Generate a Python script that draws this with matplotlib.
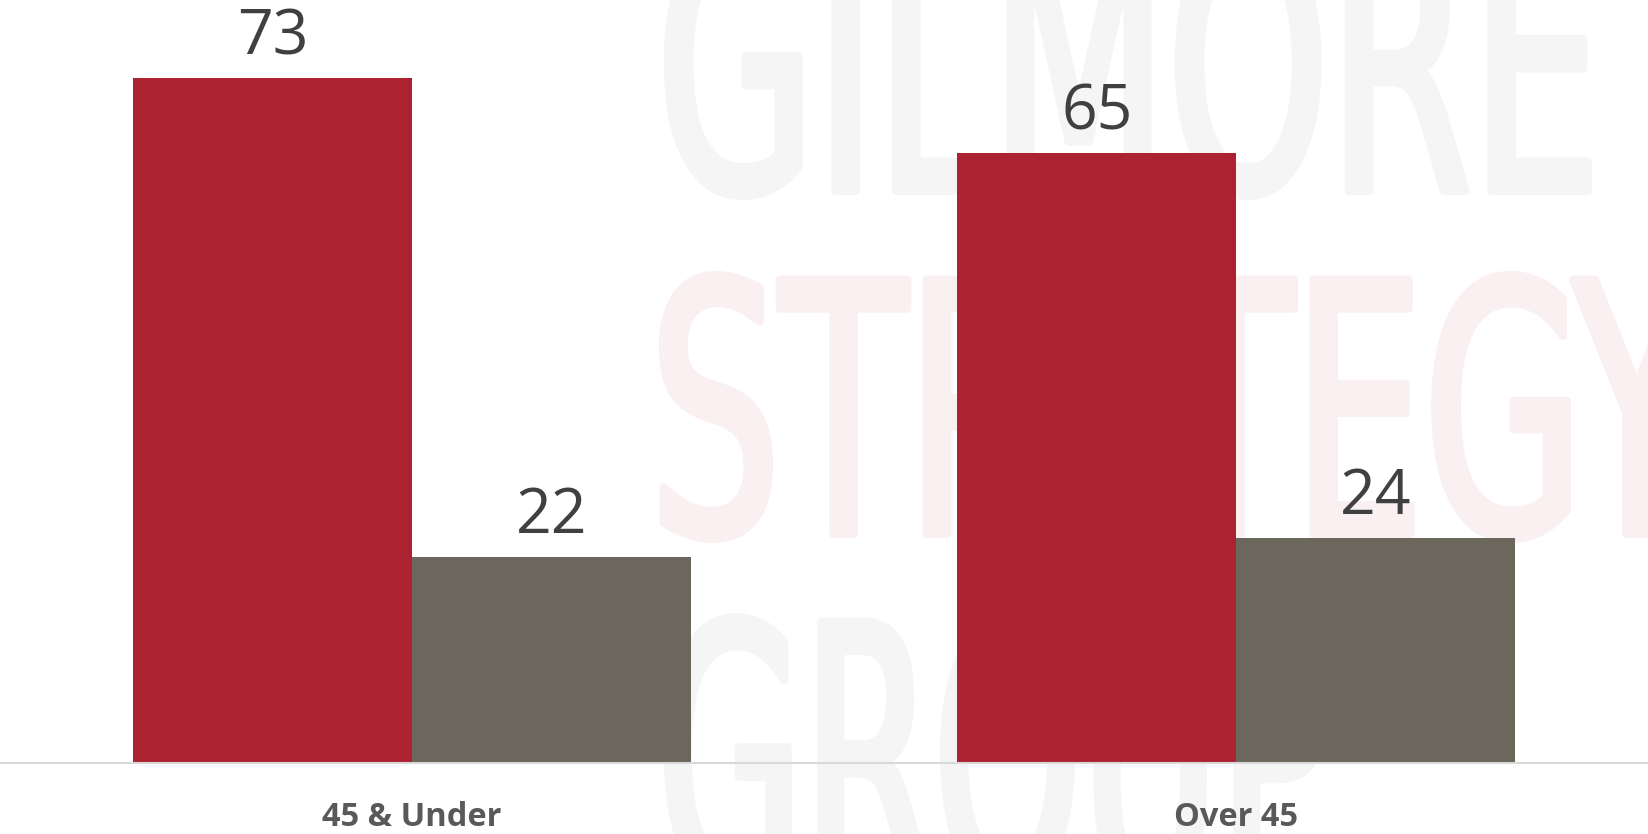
import numpy as np
import matplotlib.pyplot as plt
from matplotlib.textpath import TextPath
from matplotlib.patches import PathPatch
from matplotlib.font_manager import FontProperties
from matplotlib.transforms import Affine2D, IdentityTransform

# ----- Daten -----
groups = ["45 & Under", "Over 45"]
series_a = [73, 65]   # rot
series_b = [22, 24]   # grau

RED = "#ac2231"
GREY = "#6b675c"
VALUE_COLOR = "#404040"
LABEL_COLOR = "#595959"

W, H = 1648, 834

fig = plt.figure(figsize=(W / 100, H / 100), dpi=100)
fig.patch.set_facecolor("white")


# ----- Wasserzeichen (Logo im Hintergrund) -----
def watermark(word, x0, x1, y_top, y_bot, color):
    tp = TextPath((0, 0), word, size=100,
                  prop=FontProperties(family="DejaVu Sans"))
    ext = tp.get_extents()
    sx = (x1 - x0) / ext.width
    sy = (y_bot - y_top) / ext.height
    tr = (Affine2D().translate(-ext.x0, -ext.y0).scale(sx, sy)
          .translate(x0, H - y_bot))
    patch = PathPatch(tr.transform_path(tp), facecolor=color, edgecolor=color,
                      linewidth=6, joinstyle="round",
                      transform=IdentityTransform(), zorder=-5)
    fig.patches.append(patch)


watermark("GILMORE", 668, 1588, -71, 196, "#f5f5f5")
watermark("STRATEGY", 663, 1700, 275, 539, "#faf0f1")
watermark("GROUP", 668, 1326, 617, 890, "#f5f5f5")

# ----- Plot -----
ax = fig.add_axes([0, 71 / H, 1, 763 / H])
ax.set_facecolor("none")

x = np.arange(len(groups))
width = 0.338

bars_a = ax.bar(x - width / 2, series_a, width, color=RED, zorder=2)
bars_b = ax.bar(x + width / 2, series_b, width, color=GREY, zorder=2)

for bars, vals in [(bars_a, series_a), (bars_b, series_b)]:
    for b, v in zip(bars, vals):
        ax.annotate(f"{v}", (b.get_x() + b.get_width() / 2, v),
                    xytext=(0, 17), textcoords="offset points",
                    ha="center", va="baseline", fontsize=45,
                    color=VALUE_COLOR, family=["Open Sans", "DejaVu Sans"])

ax.set_xlim(-0.5, 1.5)
ax.set_ylim(0, 81.3)

for s in ["top", "right", "left"]:
    ax.spines[s].set_visible(False)
ax.spines["bottom"].set_color("#d9d9d9")
ax.spines["bottom"].set_linewidth(1.5)

ax.set_yticks([])
ax.set_xticks(x)
ax.set_xticklabels(groups, fontsize=23.5, fontweight="bold", color=LABEL_COLOR,
                   family=["Open Sans", "DejaVu Sans"])
ax.tick_params(axis="x", length=0, pad=27)

fig.savefig("out.png", dpi=100)
